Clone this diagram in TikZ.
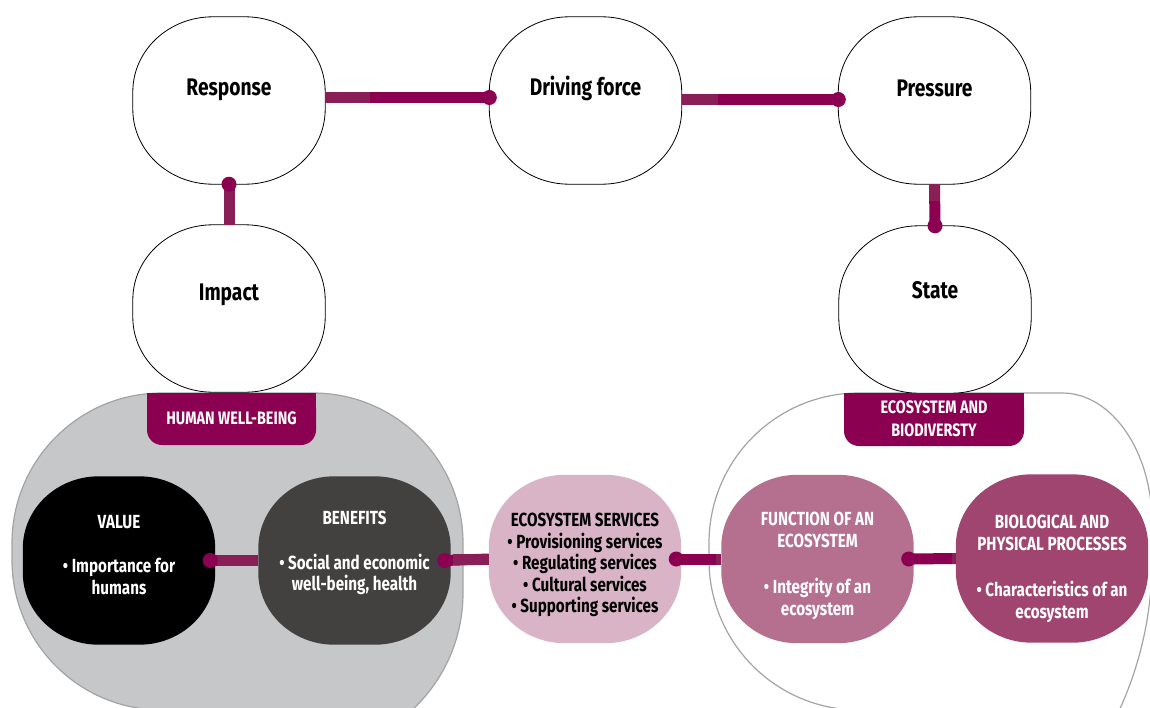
\documentclass[tikz,border=0pt]{standalone}
\usepackage{fontspec}
\setmainfont{Fira Sans}[FakeStretch=0.8]
\usetikzlibrary{calc}

\definecolor{plum}{HTML}{8B0050}
\definecolor{plumlt}{HTML}{8A1E57}
\definecolor{wbgrey}{HTML}{C6C7C9}
\definecolor{wbedge}{HTML}{A3A3A3}
\definecolor{benefit}{HTML}{434140}
\definecolor{service}{HTML}{D9B3C6}
\definecolor{funct}{HTML}{B56F8F}
\definecolor{bioproc}{HTML}{A04570}

% soft rounded box round a node: style, node, x radius, y radius
\newcommand{\softbox}[4][]{%
  \path[#1] ($(#2.north west)+(#3,0)$) -- ($(#2.north east)+(-#3,0)$)
    arc[start angle=270, end angle=360, x radius=#3, y radius=#4]
    -- ($(#2.south east)+(0,-#4)$)
    arc[start angle=0, end angle=90, x radius=#3, y radius=#4]
    -- ($(#2.south west)+(#3,0)$)
    arc[start angle=90, end angle=180, x radius=#3, y radius=#4]
    -- ($(#2.north west)+(0,#4)$)
    arc[start angle=180, end angle=270, x radius=#3, y radius=#4] -- cycle;}

\begin{document}
\begin{tikzpicture}[x=1pt, y=-1pt,
    dpsir/.style={minimum width=192pt, minimum height=167pt, inner sep=0pt},
    blob/.style={minimum width=192pt, minimum height=168pt, inner sep=0pt},
    toptxt/.style={font=\fontsize{24}{28}\selectfont\bfseries, text=black},
    bodytxt/.style={font=\fontsize{19}{21.5}\selectfont\bfseries, align=center, text=white},
    tabtxt/.style={font=\fontsize{18}{23}\selectfont\bfseries, align=center, text=white},
    tab/.style={fill=plum, rounded corners=15pt, inner sep=0pt},
    link/.style={plum, line width=11pt},
    linklt/.style={plumlt, line width=11pt},
    dot/.style={fill=plum}]
        \useasboundingbox (0,0) rectangle (1150,707);
        \clip (0,0) rectangle (1150,707);

        % Draw the two large groups
        \draw[wbedge, fill=wbgrey, line width=1.2pt] (162,393) -- (313,393)
          arc[start angle=270, end angle=360, radius=150] -- (463,593)
          arc[start angle=0, end angle=90, radius=160] -- (162,710)
          arc[start angle=90, end angle=180, radius=150] -- (12,543)
          arc[start angle=180, end angle=270, radius=150] -- cycle;
        \draw[wbedge, line width=1.2pt] (859,393) -- (1062,393)
          arc[start angle=270, end angle=360, x radius=90, y radius=130] -- (1152,560)
          arc[start angle=0, end angle=90, radius=360] -- (859,710)
          arc[start angle=90, end angle=180, radius=150] -- (709,543)
          arc[start angle=180, end angle=270, radius=150] -- cycle;

        % Draw the DPSIR chain
        \node[dpsir] (resp) at (229,100.5) {};
        \node[dpsir] (drive) at (585.5,100.5) {};
        \node[dpsir] (press) at (934.5,100.5) {};
        \node[dpsir] (impact) at (229,308.5) {};
        \node[dpsir] (state) at (935,309.5) {};
        \foreach \n in {resp, drive, press, impact, state}
          \softbox[draw=black, line width=0.8pt, fill=white]{\n}{80}{75};

        \node[toptxt] (resptxt) at (229,90) {Response};
        \node[toptxt] (drivetxt) at (585.5,88) {Driving force};
        \node[toptxt] (presstxt) at (934.5,88) {Pressure};
        \node[toptxt] (impacttxt) at (229,295) {Impact};
        \node[toptxt] (statetxt) at (935,290) {State};

        % Draw the tabs on top of the groups
        \node[tab, minimum width=169pt, minimum height=52pt] (hwb) at (231.5,419) {};
        \fill[plum] (147,393) rectangle (316,420);
        \node[tabtxt] (hwbtxt) at (231.5,418) {HUMAN WELL-BEING};

        \node[tab, minimum width=180pt, minimum height=53pt] (eco) at (934,419.5) {};
        \fill[plum] (844,393) rectangle (1024,420);
        \node[tabtxt] (ecotxt) at (934,418.5) {ECOSYSTEM AND\\BIODIVERSTY};

        % Draw the cascade nodes
        \node[blob] (value) at (119,560.5) {};
        \node[blob] (benef) at (354.5,560.5) {};
        \node[blob] (serv) at (585,559) {};
        \node[blob] (funct) at (817.5,559) {};
        \node[blob] (bio) at (1052,558.5) {};
        \softbox[fill=black]{value}{76}{72}
        \softbox[fill=benefit]{benef}{76}{72}
        \softbox[fill=service]{serv}{76}{72}
        \softbox[fill=funct]{funct}{76}{72}
        \softbox[fill=bioproc]{bio}{76}{72}

        \node[bodytxt] (valuetxt) at (119,555) {VALUE\\[23pt]\textbullet\ Importance for\\humans};
        \node[bodytxt] (beneftxt) at (354.5,553) {BENEFITS\\[23pt]\textbullet\ Social and economic\\well-being, health};
        \node[bodytxt, text=black] (servtxt) at (585,565) {ECOSYSTEM SERVICES\\\textbullet\ Provisioning services\\\textbullet\ Regulating services\\\textbullet\ Cultural services\\\textbullet\ Supporting services};
        \node[bodytxt] (functtxt) at (817.5,566) {FUNCTION OF AN\\ECOSYSTEM\\[25pt]\textbullet\ Integrity of an\\ecosystem};
        \node[bodytxt] (biotxt) at (1052,569) {BIOLOGICAL AND\\PHYSICAL PROCESSES\\[25pt]\textbullet\ Characteristics of an\\ecosystem};

        % Connect the DPSIR chain
        \draw[link] ([yshift=3pt]resp.east) -- ([yshift=3pt]drive.west);
        \draw[linklt] ([yshift=3pt]resp.east) -- ++(45,0);
        \fill[dot] ([yshift=3pt]drive.west) circle (7.5pt);

        \draw[link] ([yshift=1pt]drive.east) -- ([yshift=1pt]press.west);
        \draw[linklt] ([yshift=1pt]drive.east) -- ++(36,0);
        \fill[dot] ([yshift=1pt]press.west) circle (7.5pt);

        \draw[link] (press.south) -- (state.north);
        \draw[linklt] (press.south) -- ++(0,17);
        \fill[dot] (state.north) circle (7.5pt);

        \draw[link] (impact.north) -- (resp.south);
        \draw[linklt] (impact.north) -- ++(0,-35);
        \fill[dot] (resp.south) circle (7.5pt);

        % Connect the cascade
        \draw[link] ([xshift=-5pt]value.east) -- (benef.west);
        \draw[linklt] (benef.west) -- ++(-41,0);
        \fill[dot] ([xshift=-5pt]value.east) circle (7.5pt);

        \draw[link] ([xshift=-6pt]benef.east) -- (serv.west);
        \draw[linklt] (serv.west) -- ++(-36,0);
        \fill[dot] ([xshift=-6pt]benef.east) circle (7.5pt);

        \draw[link] ([xshift=-5pt]serv.east) -- (funct.west);
        \draw[linklt] (funct.west) -- ++(-5,0);
        \fill[dot] ([xshift=-5pt]serv.east) circle (7.5pt);

        \draw[link] ([xshift=-5pt]funct.east) -- (bio.west);
        \draw[linklt] (bio.west) -- ++(-4,0);
        \fill[dot] ([xshift=-5pt]funct.east) circle (7.5pt);
\end{tikzpicture}
\end{document}
